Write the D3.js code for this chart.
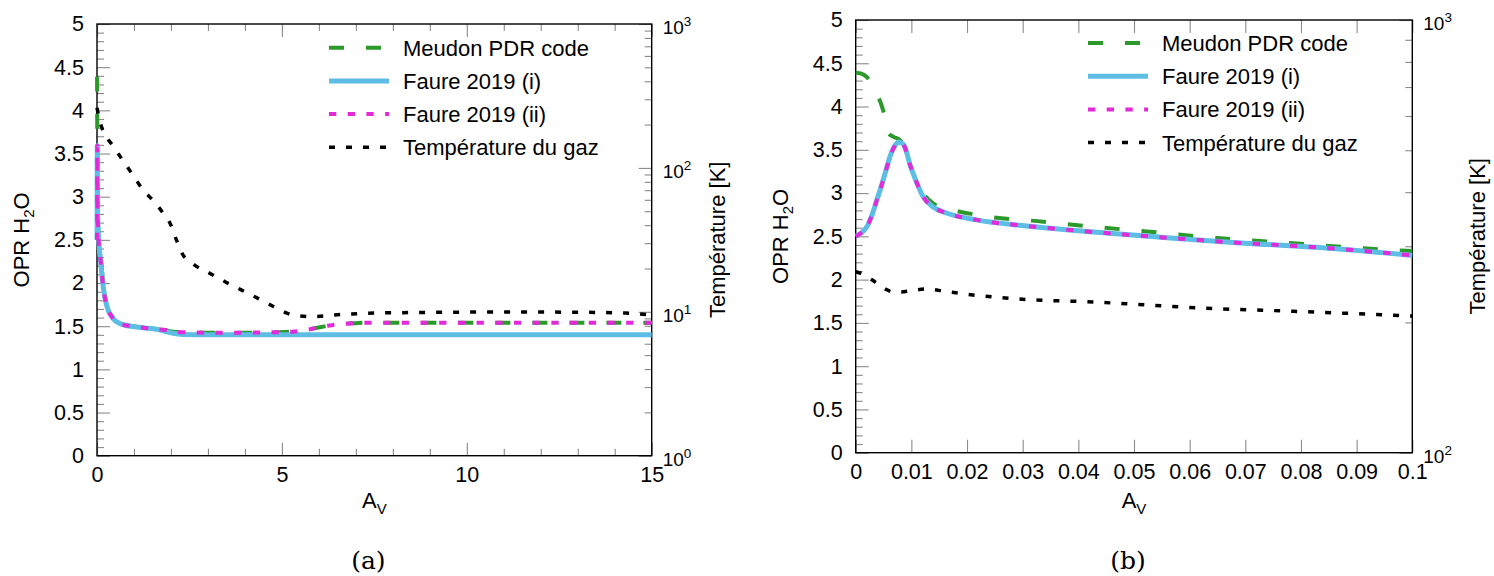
<!DOCTYPE html>
<html>
<head>
<meta charset="utf-8">
<script src="https://cdn.jsdelivr.net/npm/d3@7"></script>
<style>
  html, body { margin: 0; padding: 0; background: #fff; }
  svg { display: block; }
</style>
</head>
<body>
<svg id="chart" width="1494" height="576"></svg>
<script>
// ---------------- DATA ----------------
// Panel (a): A_V from 0 to 15
const avA_meudon   = [0, 0.002, 0.005, 0.0068, 0.0103, 0.0139, 0.03, 0.1, 0.17, 0.26, 0.4, 0.62, 0.98, 1.3, 1.61, 1.85, 2.06, 2.3, 3, 4, 4.8, 5.3, 5.76, 6.38, 7.0, 7.3, 9, 12, 15];
const oprA_meudon  = [4.39, 4.34, 3.94, 3.65, 3.23, 2.88, 2.67, 2.33, 1.97, 1.75, 1.62, 1.535, 1.5, 1.485, 1.47, 1.455, 1.435, 1.43, 1.425, 1.425, 1.43, 1.437, 1.465, 1.515, 1.535, 1.54, 1.54, 1.54, 1.54];
const avA_faure    = [0, 0.002, 0.0047, 0.0077, 0.0097, 0.0139, 0.03, 0.1, 0.17, 0.26, 0.4, 0.62, 0.98, 1.3, 1.61, 1.85, 2.06, 2.3, 3, 4, 4.8, 5.3, 5.76, 6.38, 7.0, 7.3, 9, 12, 15];
const oprA_faureI  = [2.5, 2.61, 3.1, 3.59, 3.34, 2.84, 2.62, 2.25, 1.95, 1.74, 1.61, 1.53, 1.495, 1.48, 1.465, 1.44, 1.418, 1.405, 1.4, 1.4, 1.4, 1.4, 1.4, 1.4, 1.4, 1.4, 1.4, 1.4, 1.4];
const oprA_faureII = [2.5, 2.61, 3.1, 3.59, 3.34, 2.84, 2.62, 2.25, 1.95, 1.74, 1.61, 1.53, 1.495, 1.48, 1.465, 1.455, 1.435, 1.43, 1.425, 1.425, 1.43, 1.437, 1.465, 1.515, 1.535, 1.54, 1.54, 1.54, 1.54];
const avA_temp     = [0, 0.08, 0.5, 1.0, 1.25, 1.5, 1.8, 2.0, 2.15, 2.3, 2.6, 3.05, 3.5, 3.9, 4.6, 5.05, 5.3, 5.8, 6.4, 7.3, 8.2, 9.5, 11.2, 13, 14.3, 15];
const tempA        = [262, 209, 135, 87, 70, 60, 48, 40, 31.5, 25.5, 21.5, 18.5, 16, 14.2, 11.5, 10, 9.5, 9.25, 9.5, 9.77, 9.86, 9.93, 9.97, 9.93, 9.8, 9.5];

// Panel (b): A_V from 0 to 0.1
const avB_meudon   = [0, 0.001, 0.002, 0.003, 0.0041, 0.005, 0.0059, 0.0068, 0.008, 0.0092, 0.0103, 0.0121, 0.0139, 0.0163, 0.0187, 0.0247, 0.0337, 0.0427, 0.0517, 0.0649, 0.0786, 0.0918, 0.1];
const oprB_meudon  = [4.39, 4.38, 4.34, 4.25, 4.11, 3.94, 3.69, 3.65, 3.61, 3.42, 3.23, 3.0, 2.88, 2.82, 2.785, 2.72, 2.67, 2.61, 2.56, 2.48, 2.42, 2.36, 2.33];
const avB_faure    = [0, 0.001, 0.002, 0.003, 0.0038, 0.0047, 0.0056, 0.0062, 0.0068, 0.0073, 0.0077, 0.0082, 0.0086, 0.0092, 0.0097, 0.0103, 0.0109, 0.0121, 0.0139, 0.0163, 0.0217, 0.0307, 0.0427, 0.0547, 0.0678, 0.0858, 0.1];
const oprB_faureI  = [2.5, 2.54, 2.61, 2.76, 2.92, 3.1, 3.3, 3.43, 3.52, 3.57, 3.59, 3.58, 3.56, 3.46, 3.34, 3.23, 3.13, 2.96, 2.84, 2.77, 2.69, 2.62, 2.55, 2.49, 2.43, 2.36, 2.28];
const oprB_faureII = [2.5, 2.54, 2.61, 2.76, 2.92, 3.1, 3.3, 3.43, 3.52, 3.57, 3.59, 3.58, 3.56, 3.46, 3.34, 3.23, 3.13, 2.96, 2.84, 2.77, 2.69, 2.62, 2.55, 2.49, 2.43, 2.36, 2.28];
const avB_temp     = [0, 0.0015, 0.0029, 0.0045, 0.0056, 0.007, 0.008, 0.010, 0.0128, 0.016, 0.0217, 0.0307, 0.0427, 0.0535, 0.0619, 0.0798, 0.1];
const tempB        = [262, 258, 251, 243, 238, 235, 235, 237, 239, 236, 231, 226, 223, 219, 216, 212, 207];

const seriesNames = ["Meudon PDR code", "Faure 2019 (i)", "Faure 2019 (ii)", "Température du gaz"];
const panelLabels = ["(a)", "(b)"];
const yTicksMajor = [0, 0.5, 1, 1.5, 2, 2.5, 3, 3.5, 4, 4.5, 5];
const xTicksA = [0, 5, 10, 15];
const xTicksB = [0, 0.01, 0.02, 0.03, 0.04, 0.05, 0.06, 0.07, 0.08, 0.09, 0.1];

// ---------------- STYLE ----------------
const FONT = "'Liberation Sans', Arial, Helvetica, sans-serif";
const styles = [
  { color: "#2b9a2b", width: 4,   dash: "15,22" },
  { color: "#5dbde5", width: 5,   dash: null },
  { color: "#e22ad8", width: 4,   dash: "7.3,11.4" },
  { color: "#000000", width: 3.5, dash: "6,11" }
];

const svg = d3.select("#chart").style("font-family", FONT);

function zip(xs, ys) { return xs.map((v, i) => [v, ys[i]]); }

function drawPanel(p) {
  const g = svg.append("g");
  const x = d3.scaleLinear().domain(p.xDomain).range([p.left, p.right]);
  const y = d3.scaleLinear().domain([0, 5]).range([p.bottom, p.top]);
  const t = d3.scaleLog().domain(p.tDomain).range([p.bottom, p.top]);

  const styleAxis = sel => {
    sel.select(".domain").remove();
    sel.selectAll(".tick line").attr("stroke", "#8a8a8a").attr("stroke-width", 1.1);
    sel.selectAll(".tick text").attr("fill", "#000").style("font-family", FONT).style("font-size", "21.5px");
    sel.attr("font-family", null).attr("font-size", null);
  };

  // Y left: minor & major
  const yMinor = d3.range(0, 51).map(i => i / 10).filter((v, i) => i % 5 !== 0);
  g.append("g").attr("transform", `translate(${p.left},0)`)
    .call(d3.axisLeft(y).tickValues(yMinor).tickSize(-7).tickFormat("")).call(styleAxis);
  g.append("g").attr("transform", `translate(${p.left},0)`)
    .call(d3.axisLeft(y).tickValues(yTicksMajor).tickSize(-13).tickPadding(13).tickFormat(d3.format("~g"))).call(styleAxis);

  // X bottom & top
  if (p.xMinor) {
    g.append("g").attr("transform", `translate(0,${p.bottom})`)
      .call(d3.axisBottom(x).tickValues(p.xMinor).tickSize(-7).tickFormat("")).call(styleAxis);
    g.append("g").attr("transform", `translate(0,${p.top})`)
      .call(d3.axisTop(x).tickValues(p.xMinor).tickSize(-7).tickFormat("")).call(styleAxis);
  }
  g.append("g").attr("transform", `translate(0,${p.bottom})`)
    .call(d3.axisBottom(x).tickValues(p.xTicks).tickSize(-13).tickPadding(11).tickFormat(d => String(+d.toFixed(3)))).call(styleAxis);
  g.append("g").attr("transform", `translate(0,${p.top})`)
    .call(d3.axisTop(x).tickValues(p.xTicks).tickSize(-13).tickFormat("")).call(styleAxis);

  // Right log axis
  const [t0, t1] = p.tDomain;
  const decades = d3.range(Math.round(Math.log10(t0)), Math.round(Math.log10(t1)) + 1).map(e => Math.pow(10, e));
  const tMinor = [];
  decades.slice(0, -1).forEach(d => { for (let k = 2; k <= 9; k++) tMinor.push(d * k); });
  g.append("g").attr("transform", `translate(${p.right},0)`)
    .call(d3.axisRight(t).tickValues(tMinor).tickSize(-7).tickFormat("")).call(styleAxis);
  const ra = g.append("g").attr("transform", `translate(${p.right},0)`)
    .call(d3.axisRight(t).tickValues(decades).tickSize(-13).tickPadding(11).tickFormat(d => String(Math.round(Math.log10(d))))).call(styleAxis);
  ra.selectAll(".tick text").each(function() {
    const e = d3.select(this).text();
    const s = d3.select(this).text(null).attr("dy", "0.5em").style("font-size", "19px");
    s.append("tspan").text("10");
    s.append("tspan").attr("dy", -8).style("font-size", "13.5px").text(e);
  });

  // frame
  g.append("rect").attr("x", p.left).attr("y", p.top)
    .attr("width", p.right - p.left).attr("height", p.bottom - p.top)
    .attr("fill", "none").attr("stroke", "#000").attr("stroke-width", 1.4);

  // curves
  const lineY = d3.line().x(d => x(d[0])).y(d => y(d[1])).curve(d3.curveMonotoneX);
  const lineT = d3.line().x(d => x(d[0])).y(d => t(d[1])).curve(d3.curveMonotoneX);
  const data = [
    { pts: zip(p.meudon[0], p.meudon[1]), gen: lineY },
    { pts: zip(p.faureI[0], p.faureI[1]), gen: lineY },
    { pts: zip(p.faureII[0], p.faureII[1]), gen: lineY },
    { pts: zip(p.temp[0], p.temp[1]), gen: lineT }
  ];
  data.forEach((s, i) => {
    const st = styles[i];
    g.append("path").attr("d", s.gen(s.pts))
      .attr("fill", "none").attr("stroke", st.color).attr("stroke-width", st.width)
      .attr("stroke-dasharray", st.dash).attr("stroke-linejoin", "round");
  });

  // legend
  seriesNames.forEach((name, i) => {
    const st = styles[i];
    const ly = p.legend.y + i * 33.2;
    g.append("line").attr("x1", p.legend.x).attr("x2", p.legend.x + 60)
      .attr("y1", ly).attr("y2", ly)
      .attr("stroke", st.color).attr("stroke-width", st.width).attr("stroke-dasharray", st.dash);
    g.append("text").attr("x", p.legend.x + 74).attr("y", ly + 7.9)
      .style("font-size", "22px").attr("fill", "#000").text(name);
  });

  // axis titles
  const cy = (p.top + p.bottom) / 2;
  const yl = g.append("text").attr("transform", `translate(${p.left - 68},${cy}) rotate(-90)`)
    .attr("text-anchor", "middle").style("font-size", "22px");
  yl.append("tspan").text("OPR H");
  yl.append("tspan").attr("dy", 5).style("font-size", "15px").text("2");
  yl.append("tspan").attr("dy", -5).text("O");

  g.append("text").attr("transform", `translate(${p.right + 73},${cy}) rotate(-90)`)
    .attr("text-anchor", "middle").style("font-size", "22px").text("Température [K]");

  const xl = g.append("text").attr("x", (p.left + p.right) / 2).attr("y", 508)
    .attr("text-anchor", "middle").style("font-size", "22px");
  xl.append("tspan").text("A");
  xl.append("tspan").attr("dy", 6).style("font-size", "15px").text("V");

  g.append("text").attr("x", (p.left + p.right) / 2 - 6).attr("y", 569)
    .attr("text-anchor", "middle").style("font-family", "'DejaVu Serif', 'Liberation Serif', serif")
    .style("font-size", "25px").text(p.label);
}

drawPanel({
  left: 97, right: 651.7, top: 24, bottom: 455.7,
  xDomain: [0, 15], tDomain: [1, 1000],
  xTicks: xTicksA, xMinor: d3.range(0, 16).filter(v => v % 5 !== 0),
  meudon: [avA_meudon, oprA_meudon],
  faureI: [avA_faure, oprA_faureI],
  faureII: [avA_faure, oprA_faureII],
  temp: [avA_temp, tempA],
  legend: { x: 329, y: 47.7 },
  label: panelLabels[0]
});

drawPanel({
  left: 855.7, right: 1412.3, top: 20, bottom: 452.7,
  xDomain: [0, 0.1], tDomain: [100, 1000],
  xTicks: xTicksB, xMinor: null,
  meudon: [avB_meudon, oprB_meudon],
  faureI: [avB_faure, oprB_faureI],
  faureII: [avB_faure, oprB_faureII],
  temp: [avB_temp, tempB],
  legend: { x: 1088, y: 43 },
  label: panelLabels[1]
});
</script>
</body>
</html>
